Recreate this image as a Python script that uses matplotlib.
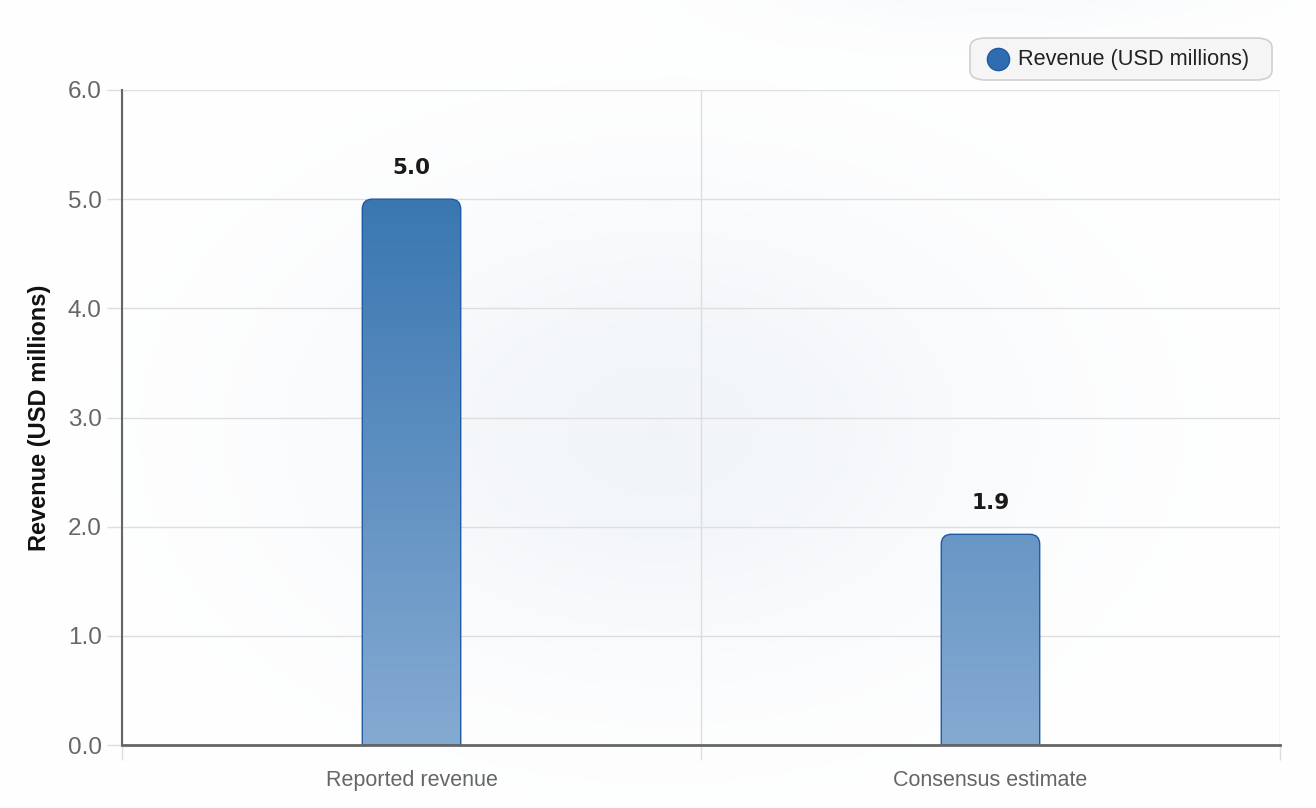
import numpy as np
import matplotlib
matplotlib.use("Agg")
import matplotlib.pyplot as plt
from matplotlib.path import Path
from matplotlib.patches import PathPatch, FancyBboxPatch
from matplotlib.colors import LinearSegmentedColormap
from matplotlib.lines import Line2D

categories = ["Reported revenue", "Consensus estimate"]
revenue = [5.0, 1.93]
y_ticks = [0.0, 1.0, 2.0, 3.0, 4.0, 5.0, 6.0]
series_name = "Revenue (USD millions)"

W, H = 1316, 808
fig = plt.figure(figsize=(W / 100, H / 100), dpi=100, facecolor="white")

# faint radial glow behind the plot
bg = fig.add_axes([0, 0, 1, 1], zorder=-10)
yy, xx = np.mgrid[0:H, 0:W]
glow = np.exp(-(((xx - 660) / 340.0) ** 2 + ((yy - 430) / 230.0) ** 2))
glow2 = np.exp(-(((xx - 1000) / 230.0) ** 2 + ((yy + 20) / 50.0) ** 2))
g = np.clip(0.055 * glow + 0.03 * glow2, 0, 1)
img = np.ones((H, W, 3))
img[..., 0] -= g * 1.0
img[..., 1] -= g * 0.75
img[..., 2] -= g * 0.45
bg.imshow(img, extent=[0, W, H, 0], aspect="auto")
bg.axis("off")

left, right, top, bottom = 122, 1280, 90, 745
ax = fig.add_axes([left / W, 1 - bottom / H, (right - left) / W, (bottom - top) / H])
ax.patch.set_alpha(0)
ax.set_xlim(-0.5, 1.5)
ax.set_ylim(0, 6)

grid_c = "#dedede"
ax.set_yticks(y_ticks)
ax.set_yticklabels([f"{t:.1f}" for t in y_ticks])
ax.set_xticks(range(len(categories)))
ax.set_xticklabels(categories)
ax.set_xticks([-0.5, 0.5, 1.5], minor=True)
ax.tick_params(axis="x", which="major", length=0, pad=18, labelsize=15.5, labelcolor="#666666")
ax.tick_params(axis="x", which="minor", length=11, color=grid_c, width=1)
ax.tick_params(axis="y", length=10.5, color=grid_c, width=1, pad=4, labelsize=17.5, labelcolor="#666666")
ax.grid(axis="y", color=grid_c, lw=1)
ax.grid(axis="x", which="minor", color=grid_c, lw=1)
ax.set_axisbelow(True)
for s in ["top", "right"]:
    ax.spines[s].set_visible(False)
ax.spines["left"].set_color("#666666")
ax.spines["left"].set_linewidth(1.5)
ax.spines["bottom"].set_color("#666666")
ax.spines["bottom"].set_linewidth(2)
ax.spines["bottom"].set_zorder(5)

ax.set_ylabel(series_name, fontsize=17, fontweight="bold", color="#111111", labelpad=12,
              family="Liberation Sans")
for lab in ax.get_xticklabels() + ax.get_yticklabels():
    lab.set_family("Liberation Sans")

cmap = LinearSegmentedColormap.from_list("bar", ["#85aad2", "#3a77b1"])
bar_w = 0.17
px_x = 2.0 / (right - left)
px_y = 6.0 / (bottom - top)
rad = 10
grad = np.linspace(0, 1, 256).reshape(-1, 1) * (6.0 / 5.0)

for i, v in enumerate(revenue):
    x0, x1 = i - bar_w / 2, i + bar_w / 2
    rx, ry = rad * px_x, rad * px_y
    verts = [(x0, 0), (x0, v - ry), (x0, v), (x0 + rx, v), (x1 - rx, v), (x1, v),
             (x1, v - ry), (x1, 0), (x0, 0)]
    codes = [Path.MOVETO, Path.LINETO, Path.CURVE3, Path.CURVE3, Path.LINETO,
             Path.CURVE3, Path.CURVE3, Path.LINETO, Path.CLOSEPOLY]
    path = Path(verts, codes)
    im = ax.imshow(grad, extent=[x0, x1, 0, 6], origin="lower", cmap=cmap, vmin=0, vmax=1,
                   aspect="auto", zorder=3)
    patch = PathPatch(path, facecolor="none", edgecolor="#1f5aa3", lw=1, zorder=4)
    ax.add_patch(patch)
    im.set_clip_path(patch)
    ax.annotate(f"{v:.1f}", (i, v), xytext=(0, 22.5), textcoords="offset points",
                ha="center", va="center", fontsize=15.5, fontweight="bold", color="#1a1a1a")

ax.set_xlim(-0.5, 1.5)
ax.set_ylim(0, 6)

# legend box
lx0, ly0, lx1, ly1 = 970, 38, 1272, 80
box = FancyBboxPatch((lx0 / W, 1 - ly1 / H), (lx1 - lx0) / W, (ly1 - ly0) / H,
                     boxstyle="round,pad=0,rounding_size=0.012", transform=fig.transFigure,
                     facecolor="#f5f5f5", edgecolor="#d0d0d0", lw=1.2)
fig.add_artist(box)
fig.add_artist(Line2D([998 / W], [1 - 59 / H], marker="o", markersize=16,
                      markerfacecolor="#2f6db0", markeredgecolor="#1f5aa3",
                      transform=fig.transFigure))
fig.text(1018 / W, 1 - 60 / H, series_name, ha="left", va="center", fontsize=15.7,
         color="#222222", family="Liberation Sans")

fig.savefig("out.png", dpi=100, facecolor="white")
